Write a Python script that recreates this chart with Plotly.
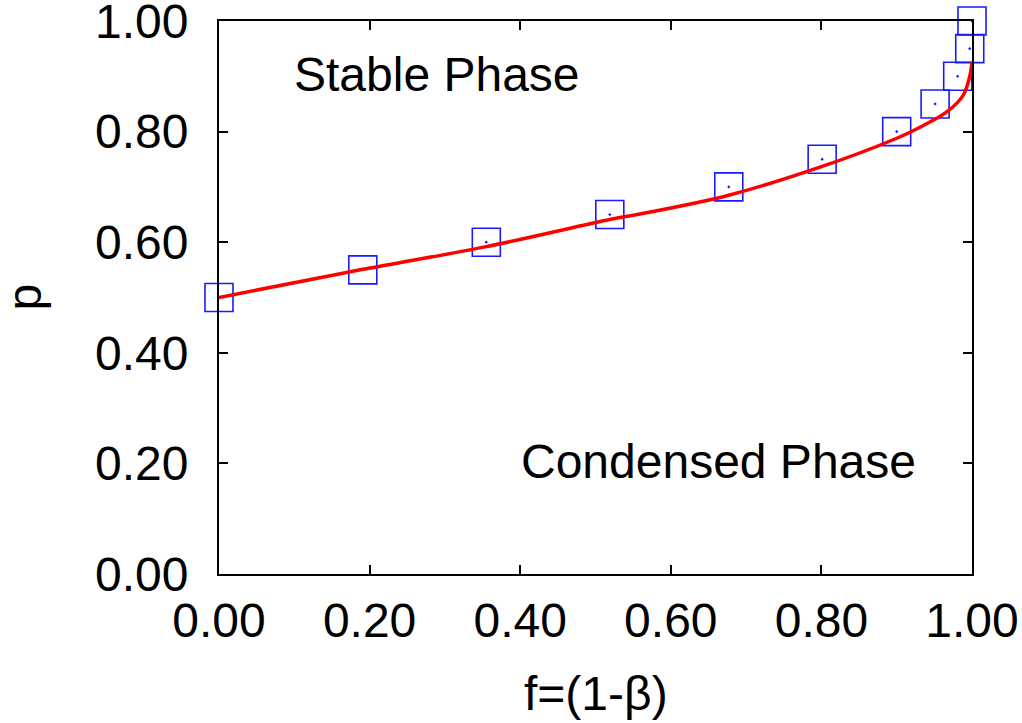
import plotly.graph_objects as go

# Simulation points (f, p)
f_points = [0.0, 0.191, 0.355, 0.519, 0.677, 0.801, 0.900, 0.951, 0.981, 0.997, 1.0]
p_points = [0.50, 0.55, 0.60, 0.65, 0.70, 0.75, 0.80, 0.85, 0.90, 0.95, 1.00]

# Theoretical curve
f_curve = [0.0, 0.161, 0.191, 0.355, 0.519, 0.559, 0.677, 0.801, 0.900, 0.931, 0.967, 0.988, 0.997, 1.0]
p_curve = [0.500, 0.543, 0.551, 0.592, 0.641, 0.651, 0.685, 0.737, 0.788, 0.808, 0.836, 0.865, 0.900, 0.926]

tick_vals = [0.0, 0.2, 0.4, 0.6, 0.8, 1.0]
tick_text = ["0.00", "0.20", "0.40", "0.60", "0.80", "1.00"]

FONT = "Liberation Sans, Arial, sans-serif"
FS = 48

fig = go.Figure()
fig.add_trace(go.Scatter(
    x=f_points, y=p_points, mode="markers", cliponaxis=False,
    marker=dict(symbol="square-open-dot", size=28, color="#1a1aff",
                line=dict(color="#1a1aff", width=1.6)),
    showlegend=False))
fig.add_trace(go.Scatter(
    x=f_curve, y=p_curve, mode="lines", line_shape="spline", cliponaxis=False,
    line=dict(color="#ff0000", width=3.5), showlegend=False))

axis_common = dict(
    tickvals=tick_vals, ticktext=tick_text, range=[0, 1],
    ticks="inside", ticklen=9, tickwidth=1.5, tickcolor="black",
    showline=True, linecolor="black", linewidth=2, mirror="ticks",
    showgrid=False, zeroline=False, automargin=False,
    ticklabeloverflow="allow",
    tickfont=dict(family=FONT, size=FS, color="black"),
)

fig.update_layout(
    width=1022, height=723,
    margin=dict(l=219, r=50, t=21, b=149, autoexpand=False),
    paper_bgcolor="white", plot_bgcolor="white",
    font=dict(family=FONT, size=FS, color="black"),
    xaxis=dict(**axis_common, ticklabelstandoff=3),
    yaxis=dict(**axis_common, ticklabelstandoff=19),
    annotations=[
        dict(x=0.29, y=0.904, xref="x", yref="y", text="Stable Phase", showarrow=False,
             font=dict(family=FONT, size=FS, color="black")),
        dict(x=0.663, y=0.203, xref="x", yref="y", text="Condensed Phase", showarrow=False,
             font=dict(family=FONT, size=FS, color="black")),
        dict(x=0.5, y=0, xref="paper", yref="paper", text="f=(1-β)", showarrow=False,
             xanchor="center", yanchor="middle", yshift=-119,
             font=dict(family=FONT, size=FS, color="black")),
        dict(x=0, y=0.5, xref="paper", yref="paper", text="p", showarrow=False,
             textangle=-90, xanchor="center", yanchor="middle", xshift=-195, yshift=0,
             font=dict(family=FONT, size=FS, color="black")),
    ],
)

fig.write_html(
    "out.html",
    config={"displayModeBar": False},
    post_script="document.body.style.margin='0';document.body.style.overflow='hidden';",
)
